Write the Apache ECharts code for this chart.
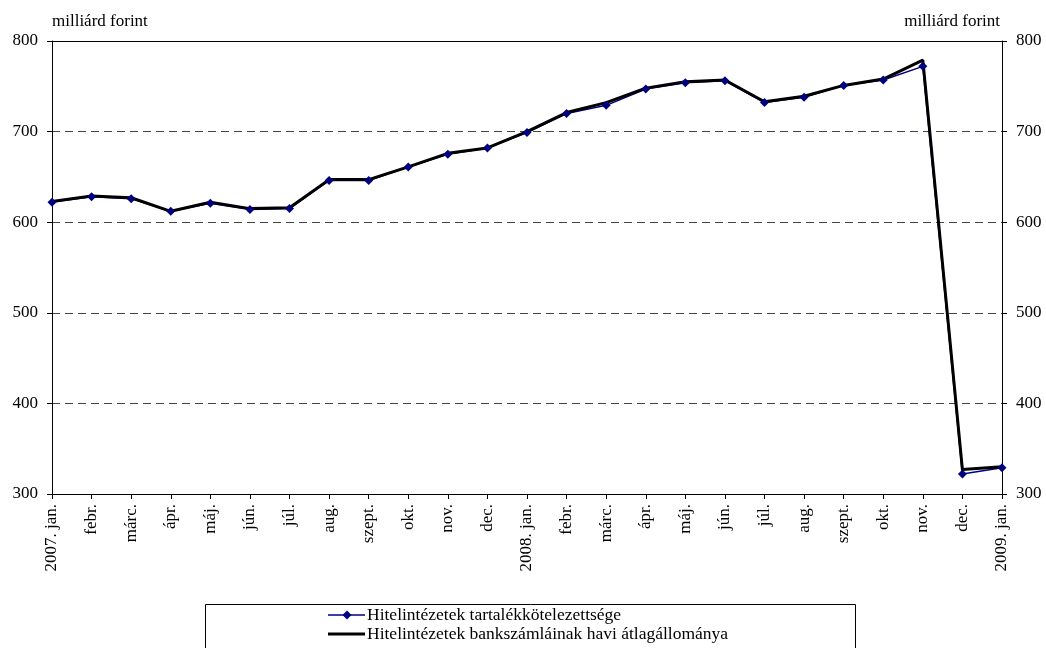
<!DOCTYPE html>
<html>
<head>
<meta charset="utf-8">
<script src="https://cdn.jsdelivr.net/npm/echarts@6/dist/echarts.min.js"></script>
<style>
html,body{margin:0;padding:0;background:#fff;}
#c{width:1046px;height:648px;}
</style>
</head>
<body>
<div id="c"></div>
<script>
var categories = ['2007. jan.','febr.','márc.','ápr.','máj.','jún.','júl.','aug.','szept.','okt.','nov.','dec.',
  '2008. jan.','febr.','márc.','ápr.','máj.','jún.','júl.','aug.','szept.','okt.','nov.','dec.','2009. jan.'];
var reserveReq = [622,628,626,612,621,614,615,646,646,661,675,682,699,720,729,747,754,756,732,738,751,757,772,322,329];
var accountAvg = [623,629,627,612,622,615,616,647,647,661,676,682,700,721,732,748,755,757,733,739,751,758,779,327,330];
var seriesNames = ['Hitelintézetek tartalékkötelezettsége','Hitelintézetek bankszámláinak havi átlagállománya'];
var unitLabel = 'milliárd forint';

var FONT = '"Liberation Serif", "DejaVu Serif", serif';
var FS = 17;
var LFS = 17.5;
var NAVY = '#000080';
var chart = echarts.init(document.getElementById('c'));
var yAxisBase = {
  type: 'value', min: 300, max: 800, interval: 100,
  axisLine: {show: true, lineStyle: {color: '#000', width: 1}},
  axisTick: {show: true, inside: false, length: 5, lineStyle: {color: '#000'}},
  axisLabel: {color: '#000', fontFamily: FONT, fontSize: FS, margin: 14}
};
var lgX = 328, lgY1 = 615, lgY2 = 634;
chart.setOption({
  animation: false,
  backgroundColor: '#fff',
  textStyle: {fontFamily: FONT},
  grid: {left: 52, right: 44, top: 41, bottom: 154, containLabel: false},
  xAxis: [{
    type: 'category', data: categories, boundaryGap: false, position: 'bottom',
    axisLine: {lineStyle: {color: '#000', width: 1}},
    axisTick: {show: true, inside: false, length: 5, alignWithLabel: true, lineStyle: {color: '#000'}},
    axisLabel: {rotate: 90, interval: 0, color: '#000', fontFamily: FONT, fontSize: FS, margin: 10},
    splitLine: {show: false}
  }, {
    type: 'category', data: categories, boundaryGap: false, position: 'top',
    axisLine: {show: true, lineStyle: {color: '#000', width: 1}},
    axisTick: {show: false}, axisLabel: {show: false}, splitLine: {show: false}
  }],
  yAxis: [
    Object.assign({}, yAxisBase, {position: 'left',
      splitLine: {show: true, lineStyle: {color: '#444', type: [8, 5], width: 1}}}),
    Object.assign({}, yAxisBase, {position: 'right', splitLine: {show: false}})
  ],
  legend: {show: false},
  graphic: [
    {type: 'rect', left: 203, top: 602, shape: {width: 650, height: 60}, style: {fill: 'none', stroke: '#000', lineWidth: 1}, z: -1},
    {type: 'line', shape: {x1: lgX, y1: lgY1, x2: lgX + 37, y2: lgY1}, style: {stroke: NAVY, lineWidth: 1.5}},
    {type: 'polygon', shape: {points: [[lgX + 19, lgY1 - 4.5], [lgX + 23.5, lgY1], [lgX + 19, lgY1 + 4.5], [lgX + 14.5, lgY1]]}, style: {fill: NAVY}},
    {type: 'text', x: lgX + 39, y: lgY1, style: {text: seriesNames[0], fontFamily: FONT, fontSize: LFS, fill: '#000', verticalAlign: 'middle'}},
    {type: 'line', shape: {x1: lgX, y1: lgY2, x2: lgX + 37, y2: lgY2}, style: {stroke: '#000', lineWidth: 3}},
    {type: 'text', x: lgX + 39, y: lgY2, style: {text: seriesNames[1], fontFamily: FONT, fontSize: LFS, fill: '#000', verticalAlign: 'middle'}},
    {type: 'text', left: 52, top: 13, style: {text: unitLabel, fontFamily: FONT, fontSize: FS, fill: '#000'}},
    {type: 'text', right: 46, top: 13, style: {text: unitLabel, fontFamily: FONT, fontSize: FS, fill: '#000', textAlign: 'right'}}
  ],
  series: [
    {name: seriesNames[0], type: 'line', data: reserveReq, z: 2, symbol: 'none',
      lineStyle: {color: NAVY, width: 1.5}, itemStyle: {color: NAVY}},
    {name: seriesNames[1], type: 'line', data: accountAvg, z: 3, symbol: 'none',
      lineStyle: {color: '#000', width: 3}, itemStyle: {color: '#000'}},
    {name: 'markers', type: 'line', data: reserveReq, z: 4, symbol: 'diamond', symbolSize: 9,
      lineStyle: {width: 0, opacity: 0}, itemStyle: {color: NAVY}}
  ]
});
</script>
</body>
</html>
